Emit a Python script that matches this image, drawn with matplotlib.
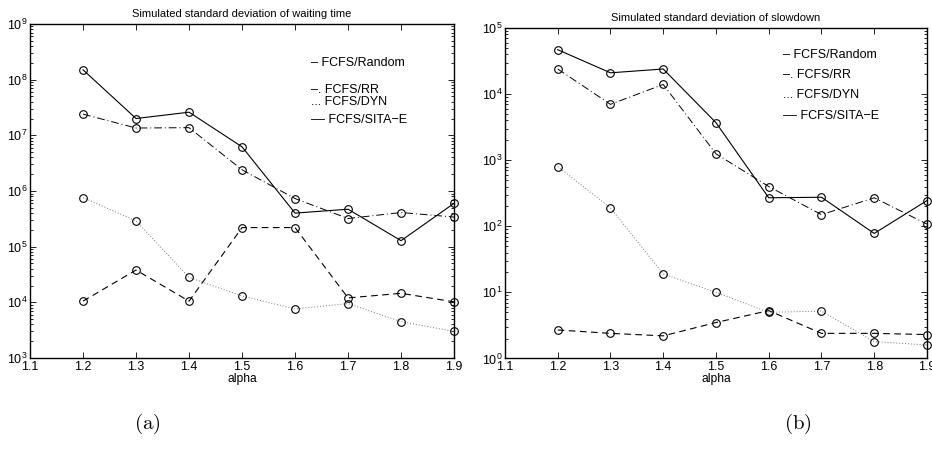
import math
import matplotlib.pyplot as plt
from matplotlib.ticker import FixedLocator, FuncFormatter, LogLocator, NullFormatter

plt.rcParams['font.family'] = ['Liberation Sans', 'DejaVu Sans']
plt.rcParams['mathtext.fontset'] = 'cm'

alpha = [1.2, 1.3, 1.4, 1.5, 1.6, 1.7, 1.8, 1.9]
series_names = ['FCFS/Random', 'FCFS/RR', 'FCFS/DYN', 'FCFS/SITA\u2212E']
legend_marks = ['\u2013', '\u2013.', '...', '\u2013\u2013']

# standard deviation of waiting time
wait_random = [1.5e8, 2.0e7, 2.6e7, 6.2e6, 4.0e5, 4.7e5, 1.28e5, 6.0e5]
wait_rr = [2.4e7, 1.35e7, 1.37e7, 2.4e6, 7.3e5, 3.2e5, 4.1e5, 3.4e5]
wait_dyn = [7.6e5, 2.9e5, 2.8e4, 1.3e4, 7.6e3, 9.5e3, 4.5e3, 3.0e3]
wait_sita = [1.05e4, 3.8e4, 1.05e4, 2.2e5, 2.2e5, 1.2e4, 1.45e4, 1.02e4]

# standard deviation of slowdown
slow_random = [4.7e4, 2.1e4, 2.4e4, 3.7e3, 270, 275, 78, 245]
slow_rr = [2.4e4, 7.0e3, 1.4e4, 1.25e3, 400, 150, 270, 108]
slow_dyn = [800, 190, 19, 10, 5.0, 5.2, 1.8, 1.6]
slow_sita = [2.7, 2.4, 2.2, 3.5, 5.3, 2.4, 2.4, 2.3]

styles = [dict(ls='-', lw=0.8, color='black'),
          dict(ls=(0, (8, 3, 1, 3)), lw=0.7, color='black'),
          dict(ls=(0, (1, 2)), lw=0.7, color='#777777'),
          dict(ls=(0, (6, 4)), lw=0.8, color='black')]

fig = plt.figure(figsize=(9.32, 4.49), dpi=100)
ax1 = fig.add_axes([0.0322, 0.2027, 0.455, 0.744])
ax2 = fig.add_axes([0.5418, 0.2016, 0.4528, 0.736])

panels = [
    (ax1, [wait_random, wait_rr, wait_dyn, wait_sita], (1e3, 1e9),
     'Simulated standard deviation of waiting time', (311, [63, 90, 102, 120])),
    (ax2, [slow_random, slow_rr, slow_dyn, slow_sita], (1e0, 1e5),
     'Simulated standard deviation of slowdown', (783, [55, 75, 95, 116])),
]

W, H = 932, 449
for ax, data, ylim, title, (lx, lys) in panels:
    for vals, st in zip(data, styles):
        ax.plot(alpha, vals, **st, clip_on=False)
        ax.plot(alpha, vals, ls='none', marker='o', ms=5.5, mfc='none',
                mec='black', mew=0.8, clip_on=False)
    ax.set_yscale('log')
    ax.set_xlim(1.1, 1.9)
    ax.set_ylim(*ylim)
    ax.xaxis.set_major_locator(FixedLocator([1.1, 1.2, 1.3, 1.4, 1.5, 1.6, 1.7, 1.8, 1.9]))
    ax.xaxis.set_major_formatter(FuncFormatter(lambda v, p: '%.1f' % v))
    ax.yaxis.set_major_locator(LogLocator(base=10, numticks=12))
    ax.yaxis.set_minor_locator(LogLocator(base=10, subs=range(2, 10), numticks=12))
    ax.yaxis.set_minor_formatter(NullFormatter())
    ax.yaxis.set_major_formatter(FuncFormatter(
        lambda v, p: r'$\mathregular{10^{%d}}$' % round(math.log10(v))))
    ax.tick_params(which='both', direction='in', top=True, right=True,
                   labelsize=9, width=0.6, pad=2)
    ax.tick_params(which='major', length=4)
    ax.tick_params(which='minor', length=2)
    for s in ax.spines.values():
        s.set_linewidth(1.0)
    ax.set_title(title, fontsize=8, pad=5)
    ax.set_xlabel('alpha', fontsize=8.7, labelpad=0)
    for mark, name, ly in zip(legend_marks, series_names, lys):
        fig.text(lx / W, 1 - ly / H, mark + ' ' + name, fontsize=9,
                 va='center', ha='left')

fig.text(147 / W, 1 - 424 / H, r'$\mathrm{(a)}$', fontsize=15, ha='center', va='center')
fig.text(798 / W, 1 - 424 / H, r'$\mathrm{(b)}$', fontsize=15, ha='center', va='center')

fig.savefig('out.png', dpi=100)
